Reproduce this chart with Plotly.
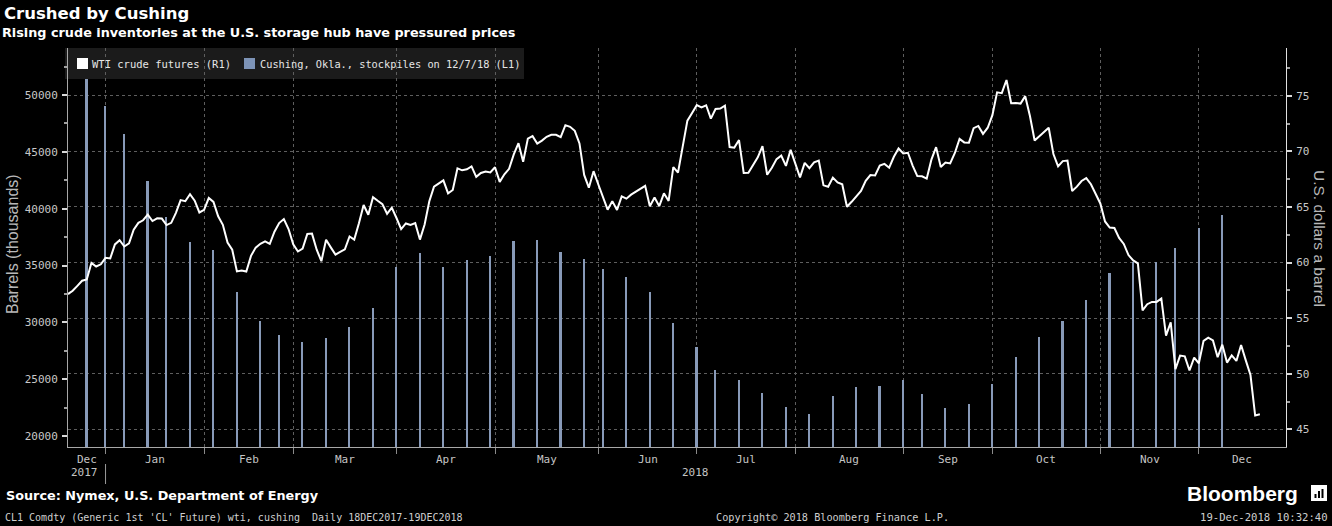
import numpy as np
import pandas as pd
import plotly.graph_objects as go

# ---------------- data ----------------
# Exchange holidays removed from the trading-day time axis
HOLIDAYS = ["2017-12-25", "2018-01-01", "2018-01-15", "2018-02-19", "2018-05-28",
            "2018-07-04", "2018-09-03", "2018-11-22", "2018-12-25"]

# WTI crude futures (generic 1st), daily close, USD/bbl, 18 Dec 2017 - 19 Dec 2018
wti_close = [
    57.16, 57.46, 57.90, 58.36, 58.47, 59.97, 59.64, 59.84, 60.42,
    60.37, 61.63, 62.01, 61.44, 61.73, 62.96, 63.57, 63.80, 64.30, 63.73, 63.97,
    63.95, 63.37, 63.57, 64.47, 65.61, 65.51, 66.14, 65.56, 64.50, 64.73,
    65.80, 65.45, 64.15, 63.39, 61.79, 61.15, 59.20, 59.29, 59.19, 60.60,
    61.34, 61.68, 61.90, 61.68, 62.77, 63.55, 63.91, 63.01, 61.64,
    60.99, 61.25, 62.57, 62.60, 61.15, 60.12, 62.04, 61.36, 60.71, 60.96,
    61.19, 62.34, 62.06, 63.54, 65.17, 64.30, 65.88, 65.55, 65.25, 64.38, 64.94, 64.00,
    63.01, 63.51, 63.37, 63.54, 62.06, 63.42, 65.51, 66.82, 67.07, 67.39,
    66.22, 66.52, 68.47, 68.29, 68.38, 68.64, 67.70, 68.05, 68.19, 68.10, 68.57,
    67.25, 67.93, 68.43, 69.72, 70.73, 69.06, 71.14, 71.36, 70.70, 70.96,
    71.31, 71.49, 71.49, 71.28, 72.35, 72.20, 71.84, 70.71, 67.88, 66.73, 68.21, 67.04,
    65.81, 64.75, 65.52, 64.73, 65.95, 65.74, 66.10, 66.36, 66.64, 66.89,
    65.06, 65.85, 65.07, 66.22, 65.54, 68.58, 68.08, 70.53, 72.76, 73.45, 74.15,
    73.94, 74.14, 72.94, 73.80, 73.85, 74.11, 70.38, 70.33, 71.01, 68.06,
    68.08, 68.76, 69.46, 70.46, 67.89, 68.52, 69.30, 69.61, 68.69, 70.13, 68.90,
    67.66, 68.96, 68.49, 69.01, 69.17, 66.94, 66.81, 67.63, 67.20, 67.04,
    65.01, 65.46, 65.91, 66.43, 67.35, 67.86, 67.83, 68.72, 68.87, 68.53, 69.51, 70.25, 69.80,
    69.87, 68.72, 67.77, 67.75, 67.54, 69.25, 70.37, 68.59, 68.99, 68.91,
    69.85, 71.12, 70.80, 70.78, 72.08, 72.28, 71.57, 72.12, 73.25,
    75.30, 75.23, 76.41, 74.33, 74.34, 74.29, 74.96, 73.17, 70.97, 71.34,
    71.78, 72.12, 69.75, 68.65, 69.12, 69.17, 66.43, 66.82, 67.33, 67.59, 67.04, 66.18, 65.31,
    63.69, 63.14, 63.10, 62.21, 61.67, 60.67, 60.19, 59.93, 55.69, 56.25,
    56.46, 56.46, 56.76, 53.43, 54.63, 50.42, 51.63, 51.56, 50.29, 51.45, 50.93,
    52.95, 53.25, 53.00, 51.49, 52.61, 51.00, 51.65, 51.15, 52.58, 51.20, 49.88, 46.24, 46.35,
]

# Cushing, Okla. crude stockpiles, thousand barrels, weekly (Fridays)
cushing_stocks = [
    51400, 49000, 46550, 42450, 39300, 37050, 36350, 32700, 30100, 28900,
    28300, 28650, 29550, 31300, 34900, 36100, 34900, 35450, 35800, 37150,
    37250, 36150, 35600, 34650, 33950, 32650, 29900, 27850, 25800, 24950,
    23800, 22550, 21950, 23550, 24300, 24400, 24900, 23700, 22450, 22850,
    24600, 26950, 28700, 30100, 31950, 34350, 35350, 35350, 36550, 38300, 39400,
]
cushing_week_end = pd.date_range("2017-12-22", "2018-12-07", freq="W-FRI")

left_ticks = [20000, 25000, 30000, 35000, 40000, 45000, 50000]
right_ticks = [45, 50, 55, 60, 65, 70, 75]

# ---------------- calendar helpers ----------------
axis_days = pd.bdate_range("2017-12-18", "2018-12-31", freq="C", holidays=HOLIDAYS)
dates = axis_days[:len(wti_close)]
assert dates[-1] == pd.Timestamp("2018-12-19"), dates[-1]
assert len(cushing_week_end) == len(cushing_stocks)

X_END = 259.57  # trading-day position of the right edge of the plot


def pos_to_date(p):
    k = int(np.floor(p))
    return axis_days[k] + pd.Timedelta(days=p - k)


idx = pd.Series(np.arange(len(dates)), index=dates)
month_last = idx.groupby([dates.year, dates.month]).max()
month_keys = list(month_last.index)
month_bounds = [dates[i] for i in month_last.values[:-1]]

# ---------------- style ----------------
MONO = "DejaVu Sans Mono"
SANS = "DejaVu Sans"
BAR_COLOR = "#889ab8"
GRID = "#5e5e5e"
LABEL = "#c4c4c4"
L, R, T, B = 68, 1286, 48, 447
W, H = R - L, B - T


def fx(px):
    return (px - L) / W


def fy(py):
    return (B - py) / H


fig = go.Figure()
fig.add_trace(go.Bar(
    x=cushing_week_end, y=cushing_stocks, yaxis="y",
    width=0.36 * 86400000, marker=dict(color=BAR_COLOR, line=dict(width=0)),
    name="Cushing, Okla., stockpiles on 12/7/18 (L1)", showlegend=False,
))
fig.add_trace(go.Scatter(
    x=dates, y=wti_close, yaxis="y2", mode="lines",
    line=dict(color="#ffffff", width=2), name="WTI crude futures (R1)", showlegend=False,
))

annotations = []
shapes = []

# month labels (centred in each month's visible span) and year labels
starts = [0.0] + list(month_last.values[:-1])
ends = list(month_last.values[:-1]) + [X_END]
for (yr, mo), s, e in zip(month_keys, starts, ends):
    annotations.append(dict(
        x=pos_to_date((s + e) / 2), y=fy(459), xref="x", yref="paper",
        text=pd.Timestamp(year=yr, month=mo, day=1).strftime("%b"), showarrow=False,
        font=dict(family=MONO, size=11, color=LABEL), xanchor="center", yanchor="middle"))
first_2018 = month_last.values[0]
annotations.append(dict(x=pos_to_date(first_2018 / 2 - 0.5), y=fy(473), xref="x", yref="paper",
                        text="2017", showarrow=False, xanchor="center", yanchor="middle",
                        font=dict(family=MONO, size=11, color=LABEL)))
annotations.append(dict(x=pos_to_date((first_2018 + X_END) / 2), y=fy(473), xref="x", yref="paper",
                        text="2018", showarrow=False, xanchor="center", yanchor="middle",
                        font=dict(family=MONO, size=11, color=LABEL)))
shapes.append(dict(type="line", xref="x", yref="paper", x0=dates[first_2018], x1=dates[first_2018],
                   y0=fy(464), y1=fy(484), line=dict(color="#9a9a9a", width=1)))

# legend (drawn)
shapes.append(dict(type="rect", xref="paper", yref="paper", x0=fx(65), x1=fx(524), y0=fy(79), y1=fy(48),
                   fillcolor="#1b1b1b", line=dict(width=0), layer="below"))
shapes.append(dict(type="rect", xref="paper", yref="paper", x0=fx(77), x1=fx(88), y0=fy(69), y1=fy(58),
                   fillcolor="#ffffff", line=dict(width=0)))
shapes.append(dict(type="rect", xref="paper", yref="paper", x0=fx(244), x1=fx(255), y0=fy(69), y1=fy(58),
                   fillcolor="#7d93b6", line=dict(width=0)))
annotations.append(dict(x=fx(90), y=fy(64), xref="paper", yref="paper", xanchor="left", yanchor="middle",
                        text="WTI crude futures (R1)", showarrow=False,
                        font=dict(family=MONO, size=10.5, color="#e6e6e6")))
annotations.append(dict(x=fx(258), y=fy(64), xref="paper", yref="paper", xanchor="left", yanchor="middle",
                        text="Cushing, Okla., stockpiles on 12/7/18 (L1)", showarrow=False,
                        font=dict(family=MONO, size=10.3, color="#e6e6e6")))

# titles
annotations.append(dict(x=fx(2), y=fy(14), xref="paper", yref="paper", xanchor="left", yanchor="middle",
                        text="Crushed by Cushing", showarrow=False,
                        font=dict(family=SANS, size=16.5, color="#ffffff", weight="bold")))
annotations.append(dict(x=fx(0), y=fy(32.5), xref="paper", yref="paper", xanchor="left", yanchor="middle",
                        text="Rising crude inventories at the U.S. storage hub have pressured prices",
                        showarrow=False, font=dict(family=SANS, size=12.8, color="#ffffff", weight="bold")))

# axis titles
annotations.append(dict(x=fx(12), y=fy(244), xref="paper", yref="paper", textangle=-90,
                        xanchor="center", yanchor="middle",
                        text="Barrels (thousands)", showarrow=False,
                        font=dict(family="Liberation Sans", size=16, color="#b8b8b8")))
annotations.append(dict(x=fx(1320), y=fy(238), xref="paper", yref="paper", textangle=90,
                        xanchor="center", yanchor="middle",
                        text="U.S. dollars a barrel", showarrow=False,
                        font=dict(family="Liberation Sans", size=15.5, color="#b8b8b8")))

# footer
annotations.append(dict(x=fx(4), y=fy(495), xref="paper", yref="paper", xanchor="left", yanchor="middle",
                        text="Source: Nymex, U.S. Department of Energy", showarrow=False,
                        font=dict(family=SANS, size=12.8, color="#ffffff", weight="bold")))
annotations.append(dict(x=fx(3), y=fy(517), xref="paper", yref="paper", xanchor="left", yanchor="middle",
                        text="CL1 Comdty (Generic 1st 'CL' Future) wti, cushing\u00a0 Daily 18DEC2017-19DEC2018",
                        showarrow=False, font=dict(family=MONO, size=10, color="#cfcfcf")))
annotations.append(dict(x=fx(832), y=fy(517), xref="paper", yref="paper", xanchor="center", yanchor="middle",
                        text="Copyright\u00a9 2018 Bloomberg Finance L.P.", showarrow=False,
                        font=dict(family=MONO, size=10.2, color="#cfcfcf")))
annotations.append(dict(x=fx(1330), y=fy(517), xref="paper", yref="paper", xanchor="right", yanchor="middle",
                        text="19-Dec-2018 10:32:40", showarrow=False,
                        font=dict(family=MONO, size=10.6, color="#cfcfcf")))
annotations.append(dict(x=fx(1300), y=fy(493), xref="paper", yref="paper", xanchor="right", yanchor="middle",
                        text="Bloomberg", showarrow=False,
                        font=dict(family="Liberation Sans", size=21, color="#ffffff", weight="bold")))
# small logo glyph
shapes.append(dict(type="rect", xref="paper", yref="paper", x0=fx(1311), x1=fx(1327), y0=fy(501), y1=fy(485),
                   fillcolor="#ffffff", line=dict(width=0)))
for bx, top in [(1314.5, 494), (1318, 491), (1321.5, 489)]:
    shapes.append(dict(type="rect", xref="paper", yref="paper", x0=fx(bx), x1=fx(bx + 2), y0=fy(498), y1=fy(top),
                       fillcolor="#000000", line=dict(width=0)))

tickfont = dict(family=MONO, size=11, color="#c8c8c8")
fig.update_layout(
    width=1332, height=526,
    margin=dict(l=L, r=1332 - R, t=T, b=526 - B, pad=0),
    paper_bgcolor="#000000", plot_bgcolor="#000000",
    showlegend=False, bargap=0,
    xaxis=dict(
        type="date", range=[dates[0], pos_to_date(X_END)],
        rangebreaks=[dict(bounds=["sat", "mon"]), dict(values=HOLIDAYS)],
        tickmode="array", tickvals=month_bounds, showticklabels=False,
        ticks="outside", ticklen=6, tickcolor="#8a8a8a",
        showgrid=True, gridcolor=GRID, griddash="dot", gridwidth=1,
        showline=True, linecolor="#a8a8a8", linewidth=1, zeroline=False,
    ),
    yaxis=dict(
        range=[19033, 54134], tickmode="array", tickvals=left_ticks, tickformat="d",
        ticks="outside", ticklen=5, tickwidth=2, tickcolor="#d8d8d8",
        minor=dict(tickmode="linear", tick0=0, dtick=2500, ticks="outside", ticklen=3,
                   tickcolor="#a0a0a0", showgrid=False),
        showgrid=False, zeroline=False, showline=True, linecolor="#a8a8a8", linewidth=1,
        tickfont=tickfont, ticklabelstandoff=2,
    ),
    yaxis2=dict(
        overlaying="y", side="right", range=[43.41, 79.29], tickmode="array", tickvals=right_ticks,
        tickformat="d",
        ticks="outside", ticklen=5, tickwidth=2, tickcolor="#d8d8d8",
        minor=dict(tickmode="linear", tick0=0, dtick=2.5, ticks="outside", ticklen=3,
                   tickcolor="#a0a0a0", showgrid=False),
        showgrid=True, gridcolor=GRID, griddash="dot", gridwidth=1,
        zeroline=False, showline=True, linecolor="#e0e0e0", linewidth=1,
        tickfont=tickfont, ticklabelstandoff=2,
    ),
    annotations=annotations,
    shapes=shapes,
)

fig.write_html(
    "out.html",
    config={"displayModeBar": False},
    post_script="document.body.style.margin='0px';document.body.style.background='#000000';",
)
